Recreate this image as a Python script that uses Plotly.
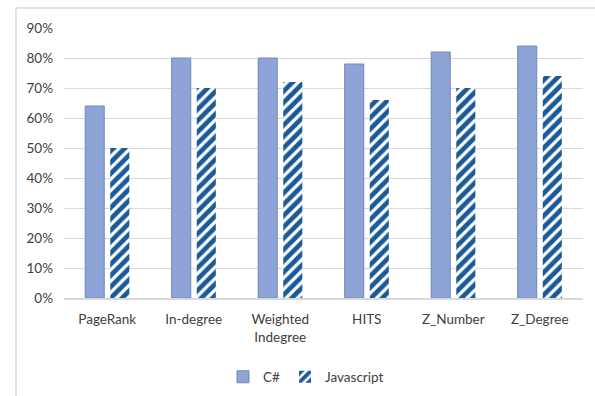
import plotly.graph_objects as go

categories = ["PageRank", "In-degree", "Weighted<br>Indegree", "HITS", "Z_Number", "Z_Degree"]
csharp = [0.64, 0.80, 0.80, 0.78, 0.82, 0.84]
javascript = [0.50, 0.70, 0.72, 0.66, 0.70, 0.74]
tick_vals = [0, 0.1, 0.2, 0.3, 0.4, 0.5, 0.6, 0.7, 0.8, 0.9]
tick_text = ["0%", "10%", "20%", "30%", "40%", "50%", "60%", "70%", "80%", "90%"]

FONT = "Lato, 'Open Sans', sans-serif"

fig = go.Figure()
fig.add_trace(go.Bar(
    name="C#", x=categories, y=csharp,
    marker=dict(color="#8EA4D6", line=dict(color="#6F87C0", width=1)),
))
fig.add_trace(go.Bar(
    name="Javascript", x=categories, y=javascript,
    marker=dict(color="white",
                pattern=dict(shape="/", fgcolor="#1A5A96", bgcolor="white",
                             fgopacity=1, size=8, solidity=0.6, fillmode="replace"),
                line=dict(width=0)),
))

W, H = 595, 396
ml, mr, mt, mb = 64, 12, 28, 98
pw, ph = W - ml - mr, H - mt - mb

def px_to_paper_x(px):
    return (px - ml) / pw

def py_to_paper_y(py):
    return (H - mb - py) / ph

fig.add_shape(type="rect", xref="paper", yref="paper",
              x0=px_to_paper_x(16), x1=px_to_paper_x(605),
              y0=py_to_paper_y(410), y1=py_to_paper_y(8),
              line=dict(color="#D9D9D9", width=1.5), fillcolor="rgba(0,0,0,0)",
              layer="below")

fig.update_layout(
    width=W, height=H,
    margin=dict(l=ml, r=mr, t=mt, b=mb, autoexpand=False),
    paper_bgcolor="white", plot_bgcolor="white",
    barmode="group", bargap=0.42, bargroupgap=0.24,
    font=dict(family=FONT, size=13.5, color="#404040"),
    showlegend=True,
    legend=dict(orientation="h", x=px_to_paper_x(306), xanchor="center",
                y=py_to_paper_y(377), yanchor="middle",
                font=dict(size=13.5, color="#404040"), itemwidth=30,
                tracegroupgap=0),
    xaxis=dict(showgrid=False, showline=True, linecolor="#D9D9D9", linewidth=1.5,
               ticks="", automargin=False, ticklabelstandoff=8,
               tickfont=dict(size=13.5, color="#404040")),
    yaxis=dict(range=[0, 0.9], tickvals=tick_vals, ticktext=tick_text,
               showgrid=True, gridcolor="#D9D9D9", gridwidth=1,
               zeroline=False, showline=False, ticks="", automargin=False,
               tickfont=dict(size=13.5, color="#404040"), ticklabelstandoff=10),
)

fig.write_html("out.html")
